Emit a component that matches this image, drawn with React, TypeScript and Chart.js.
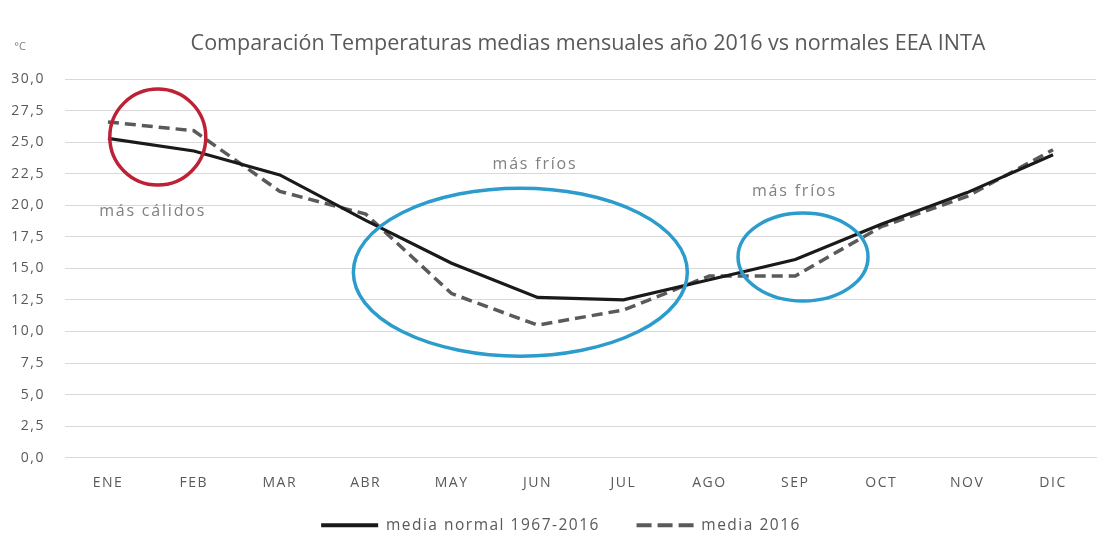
import React, { useEffect, useRef } from 'react';
import { Chart, registerables } from 'chart.js';

Chart.register(...registerables);

const months = ['ENE', 'FEB', 'MAR', 'ABR', 'MAY', 'JUN', 'JUL', 'AGO', 'SEP', 'OCT', 'NOV', 'DIC'];
const mediaNormal = [25.3, 24.3, 22.4, 18.8, 15.4, 12.7, 12.5, 14.1, 15.7, 18.5, 21.0, 24.0];
const media2016 = [26.6, 25.9, 21.1, 19.3, 13.0, 10.5, 11.7, 14.4, 14.4, 18.3, 20.7, 24.4];
const seriesNames = ['media normal 1967-2016', 'media 2016'];
const titleText = 'Comparación Temperaturas medias mensuales año 2016 vs normales EEA INTA';
const unitText = '°C';

// annotation marks in data units (category index, °C)
const ellipseX = [0.58, 4.8, 8.09];
const ellipseY = [25.4, 14.7, 15.9];
const ellipseRx = [48, 167, 65];
const ellipseRy = [48, 84, 44];
const ellipseColor = ['#be2035', '#2b9ccb', '#2b9ccb'];
const noteTexts = ['más cálidos', 'más fríos', 'más fríos'];
const noteX = [0.52, 4.97, 7.99];
const noteY = [19.5, 23.2, 21.1];

const spacingPlugin = {
  id: 'spacing',
  beforeLayout(chart: any) {
    chart.ctx.letterSpacing = '1.5px';
  },
  afterLayout(chart: any) {
    if (chart.legend) chart.legend.left += 26;
  },
  beforeDraw(chart: any) {
    chart.ctx.letterSpacing = '1.5px';
  },
};

const annotationPlugin = {
  id: 'annot',
  afterDatasetsDraw(chart: any) {
    const ctx = chart.ctx;
    const xs = chart.scales.x;
    const ys = chart.scales.y;
    const step = xs.getPixelForValue(1) - xs.getPixelForValue(0);
    const x0 = xs.getPixelForValue(0);
    ctx.save();
    for (let i = 0; i < ellipseX.length; i++) {
      ctx.beginPath();
      ctx.ellipse(x0 + ellipseX[i] * step, ys.getPixelForValue(ellipseY[i]), ellipseRx[i], ellipseRy[i], 0, 0, Math.PI * 2);
      ctx.lineWidth = 3.5;
      ctx.strokeStyle = ellipseColor[i];
      ctx.setLineDash([]);
      ctx.stroke();
    }
    ctx.fillStyle = '#808080';
    ctx.font = '16px "Open Sans"';
    ctx.letterSpacing = '1.8px';
    ctx.textAlign = 'center';
    ctx.textBaseline = 'middle';
    for (let i = 0; i < noteTexts.length; i++) {
      ctx.fillText(noteTexts[i], x0 + noteX[i] * step, ys.getPixelForValue(noteY[i]));
    }
    ctx.restore();
  },
  afterDraw(chart: any) {
    const ctx = chart.ctx;
    ctx.save();
    ctx.textAlign = 'center';
    ctx.textBaseline = 'middle';
    ctx.letterSpacing = '0px';
    ctx.fillStyle = '#595959';
    ctx.font = '21.5px "Open Sans"';
    ctx.fillText(titleText, 588, 44);
    ctx.font = '11px "Open Sans"';
    ctx.fillStyle = '#7f7f7f';
    ctx.fillText(unitText, 20, 47);
    ctx.restore();
  },
};

export default function App() {
  const ref = useRef<HTMLCanvasElement>(null);
  useEffect(() => {
    document.body.style.margin = '0';
    const chart = new Chart(ref.current!, {
      type: 'line',
      data: {
        labels: months,
        datasets: [
          {
            label: seriesNames[0],
            data: mediaNormal,
            borderColor: '#1a1a1a',
            backgroundColor: '#1a1a1a',
            borderWidth: 3.2,
            pointRadius: 0,
            tension: 0,
          },
          {
            label: seriesNames[1],
            data: media2016,
            borderColor: '#5a5a5a',
            backgroundColor: '#5a5a5a',
            borderWidth: 3.5,
            borderDash: [11, 6],
            pointRadius: 0,
            tension: 0,
          },
        ],
      },
      options: {
        animation: false,
        responsive: false,
        layout: { padding: { top: 79, right: 10, left: 0, bottom: 13 } },
        plugins: {
          tooltip: { enabled: false },
          title: { display: false },
          legend: {
            position: 'bottom',
            labels: {
              usePointStyle: true,
              pointStyle: 'line',
              pointStyleWidth: 57,
              boxHeight: 15,
              padding: 9,
              color: '#595959',
              font: { family: '"Open Sans"', size: 15.5 },
              generateLabels: (c: any) =>
                c.data.datasets.map((d: any, i: number) => ({
                  text: i === 0 ? d.label + '     ' : d.label,
                  fillStyle: d.borderColor,
                  strokeStyle: d.borderColor,
                  lineWidth: 4,
                  lineDash: i === 0 ? [] : [15, 6],
                  pointStyle: 'line',
                  datasetIndex: i,
                  hidden: false,
                  fontColor: '#595959',
                })),
            },
          },
        },
        scales: {
          x: {
            offset: true,
            grid: { display: false, drawTicks: false },
            border: { display: true, color: '#d9d9d9', width: 1 },
            ticks: { color: '#595959', padding: 17, font: { family: '"Open Sans"', size: 14 } },
          },
          y: {
            min: 0,
            max: 30,
            afterFit: (s: any) => { s.width = 65; },
            grid: { color: '#d9d9d9', drawTicks: false },
            border: { display: false },
            ticks: {
              stepSize: 2.5,
              padding: 20,
              color: '#595959',
              font: { family: '"Open Sans"', size: 14 },
              callback: (v: any) => Number(v).toFixed(1).replace('.', ','),
            },
          },
        },
      },
      plugins: [spacingPlugin, annotationPlugin],
    });
    return () => chart.destroy();
  }, []);
  return (
    <div style={{ width: 1106, height: 556, background: '#fff' }}>
      <canvas ref={ref} width={1106} height={556} />
    </div>
  );
}
